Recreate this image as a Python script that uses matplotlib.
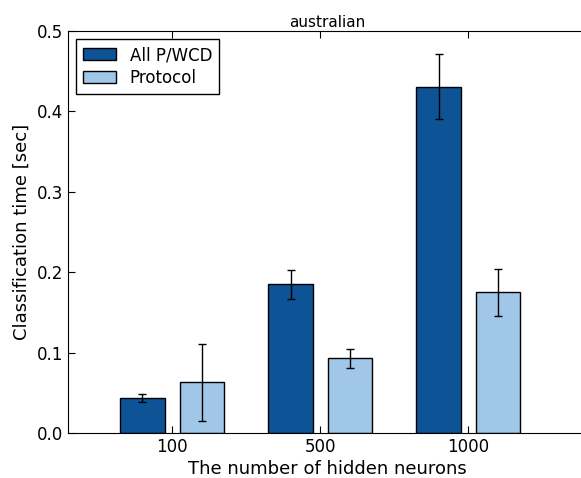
import numpy as np
import matplotlib
matplotlib.use("Agg")
import matplotlib.pyplot as plt

neurons = ["100", "500", "1000"]
all_pwcd = [0.044, 0.185, 0.431]
all_pwcd_err = [0.005, 0.018, 0.040]
protocol = [0.063, 0.093, 0.175]
protocol_err = [0.048, 0.012, 0.029]

dark = "#0e5396"
light = "#a0c6e8"

fig = plt.figure(figsize=(5.81, 4.78), dpi=100)
# axes run a little past the right edge, so no right spine shows
ax = fig.add_axes([0.117, 0.094, 0.893, 0.841])

x = np.arange(len(neurons))
w = 0.3
ax.bar(x - 0.2, all_pwcd, w, yerr=all_pwcd_err, color=dark, edgecolor="black",
       linewidth=1, label="All P/WCD",
       error_kw=dict(ecolor="black", capsize=3, elinewidth=1, capthick=1))
ax.bar(x + 0.2, protocol, w, yerr=protocol_err, color=light, edgecolor="black",
       linewidth=1, label="Protocol",
       error_kw=dict(ecolor="black", capsize=3, elinewidth=1, capthick=1))

ax.set_xticks(x)
ax.set_xticklabels(neurons)
ax.set_xlim(-0.703, 2.80)
ax.set_ylim(0, 0.5)
ax.set_yticks(np.arange(0, 0.51, 0.1))
ax.set_yticklabels([f"{v:.1f}" for v in np.arange(0, 0.51, 0.1)])
ax.tick_params(direction="in", top=True, right=False, labelsize=12, length=5)
ax.set_title("australian", fontsize=11, pad=3)
ax.set_xlabel("The number of hidden neurons", fontsize=13, labelpad=3)
ax.set_ylabel("Classification time [sec]", fontsize=13)

leg = ax.legend(loc="upper left", fontsize=12, fancybox=False, framealpha=1,
                edgecolor="black", handlelength=2.0, handletextpad=0.8,
                labelspacing=0.3, borderpad=0.4, borderaxespad=0.5)
leg.get_frame().set_linewidth(1)

fig.savefig("out.png", dpi=100)
